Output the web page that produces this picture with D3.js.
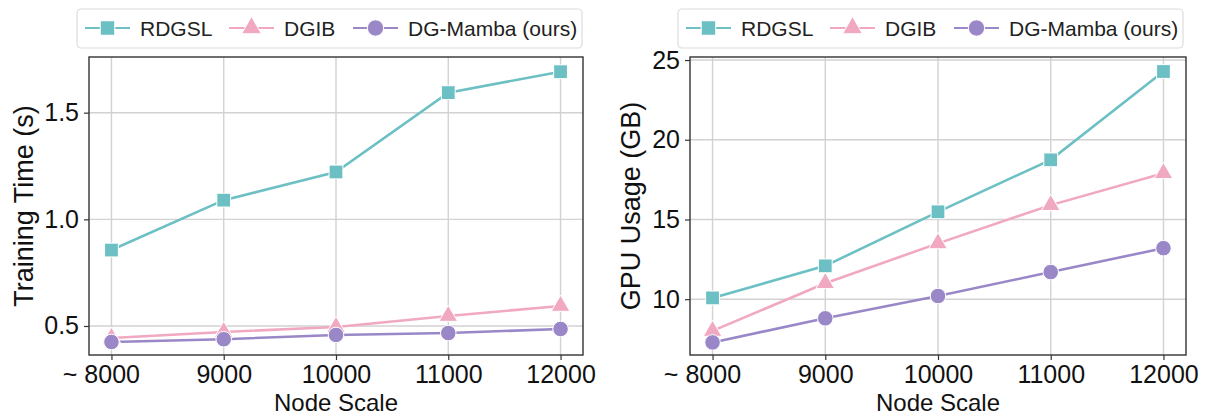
<!DOCTYPE html>
<html lang="en">
<head>
  <meta charset="UTF-8">
  <title>Node Scale vs Time / Memory</title>
  <script src="https://d3js.org/d3.v7.min.js"></script>
  <style>
    body { margin: 0; background: #fff; }
    text { font-family: "Liberation Sans", Arial, sans-serif; fill: #111; }
    .grid line { stroke: #d2d2d2; stroke-width: 1.4px; }
    .axis path { display: none; }
    .axis line { stroke: #333; stroke-width: 1.2px; }
    .axis text { font-size: 25px; fill: #111; }
    .frame { fill: none; stroke: #333; stroke-width: 1.4px; }
  </style>
</head>
<body>
  <svg width="1208" height="416"></svg>

  <script>
    // node scales on the x axis
    const nodeScales = [8000, 9000, 10000, 11000, 12000];

    const methods = ["RDGSL", "DGIB", "DG-Mamba (ours)"];
    const colors = ["#6cc0c4", "#f1a8c1", "#9a87c8"];
    const shapes = ["square", "triangle", "circle"];

    // training time (s)
    const timeRDGSL = [0.856, 1.09, 1.222, 1.594, 1.692];
    const timeDGIB = [0.444, 0.472, 0.495, 0.547, 0.594];
    const timeMamba = [0.425, 0.438, 0.458, 0.467, 0.486];

    // GPU usage (GB)
    const gpuRDGSL = [10.08, 12.09, 15.48, 18.74, 24.28];
    const gpuDGIB = [8.01, 11.0, 13.5, 15.9, 17.9];
    const gpuMamba = [7.29, 8.8, 10.2, 11.7, 13.2];

    const timeTicks = [0.5, 1.0, 1.5];
    const gpuTicks = [10, 15, 20, 25];

    const svg = d3.select("svg");

    function marker(sel, shape, color, size) {
      const sym = shape === "square" ? d3.symbolSquare
        : shape === "triangle" ? d3.symbolTriangle : d3.symbolCircle;
      sel.append("path")
        .attr("d", d3.symbol(sym, size)())
        .attr("fill", color)
        .attr("stroke", "#fff")
        .attr("stroke-width", 1);
    }

    function panel(opts) {
      const g = svg.append("g");
      const x = d3.scaleLinear().domain([7800, 12200]).range([opts.x0, opts.x1]);
      const y = d3.scaleLinear().domain(opts.yDomain).range([355, 57]);

      // grid
      const grid = g.append("g").attr("class", "grid");
      grid.selectAll(".vx").data(nodeScales).enter().append("line")
        .attr("x1", d => x(d)).attr("x2", d => x(d))
        .attr("y1", 57).attr("y2", 355);
      grid.selectAll(".hy").data(opts.ticks).enter().append("line")
        .attr("x1", opts.x0).attr("x2", opts.x1)
        .attr("y1", d => y(d)).attr("y2", d => y(d));

      // axes
      const xAxis = g.append("g").attr("class", "axis")
        .attr("transform", "translate(0,355)")
        .call(d3.axisBottom(x).tickValues(nodeScales).tickSize(5).tickPadding(4).tickFormat(d3.format("d")));
      xAxis.selectAll(".tick text").attr("dy", "0.75em");
      // first label gets a "~ " prefix, the digits stay centred on the tick
      xAxis.selectAll(".tick text").filter(d => d === 8000)
        .attr("text-anchor", "end").attr("x", 28).text("~ 8000");

      g.append("g").attr("class", "axis")
        .attr("transform", `translate(${opts.x0},0)`)
        .call(d3.axisLeft(y).tickValues(opts.ticks).tickSize(5).tickPadding(5).tickFormat(opts.fmt));

      g.append("rect").attr("class", "frame")
        .attr("x", opts.x0).attr("y", 57)
        .attr("width", opts.x1 - opts.x0).attr("height", 298);

      // axis labels
      g.append("text")
        .attr("x", (opts.x0 + opts.x1) / 2).attr("y", 410.5)
        .attr("text-anchor", "middle").attr("font-size", 24)
        .text("Node Scale");
      g.append("text")
        .attr("transform", `translate(${opts.labelX},206) rotate(-90)`)
        .attr("text-anchor", "middle").attr("font-size", 27)
        .text(opts.yLabel);

      // series
      const line = d3.line().x((d, i) => x(nodeScales[i])).y(d => y(d));
      opts.series.forEach((vals, k) => {
        g.append("path").datum(vals)
          .attr("d", line)
          .attr("fill", "none")
          .attr("stroke", colors[k])
          .attr("stroke-width", 2.6);
      });
      opts.series.forEach((vals, k) => {
        vals.forEach((v, i) => {
          const m = g.append("g").attr("transform", `translate(${x(nodeScales[i])},${y(v)})`);
          marker(m, shapes[k], colors[k], shapes[k] === "triangle" ? 150 : 190);
        });
      });

      // legend
      const lg = g.append("g").attr("transform", `translate(${opts.legendX},9)`);
      lg.append("rect")
        .attr("width", 505).attr("height", 39).attr("rx", 4)
        .attr("fill", "#fff").attr("stroke", "#dcdcdc").attr("stroke-width", 1.2);
      const legX = [8, 152, 276];
      methods.forEach((name, k) => {
        const it = lg.append("g").attr("transform", `translate(${legX[k]},19)`);
        it.append("line").attr("x1", 0).attr("x2", 45)
          .attr("stroke", colors[k]).attr("stroke-width", 2.2);
        const m = it.append("g").attr("transform", "translate(22.5,0)");
        marker(m, shapes[k], colors[k], shapes[k] === "triangle" ? 170 : 210);
        it.append("text").attr("x", 55).attr("y", 7.5)
          .attr("font-size", 21).style("fill", "#222")
          .text(name);
      });
    }

    panel({
      x0: 89, x1: 583, yDomain: [0.364, 1.761], ticks: timeTicks,
      fmt: d3.format(".1f"), yLabel: "Training Time (s)", labelX: 33,
      series: [timeRDGSL, timeDGIB, timeMamba], legendX: 77
    });

    panel({
      x0: 690, x1: 1186, yDomain: [6.5, 25.19], ticks: gpuTicks,
      fmt: d3.format("d"), yLabel: "GPU Usage (GB)", labelX: 640,
      series: [gpuRDGSL, gpuDGIB, gpuMamba], legendX: 678
    });
  </script>
</body>
</html>
